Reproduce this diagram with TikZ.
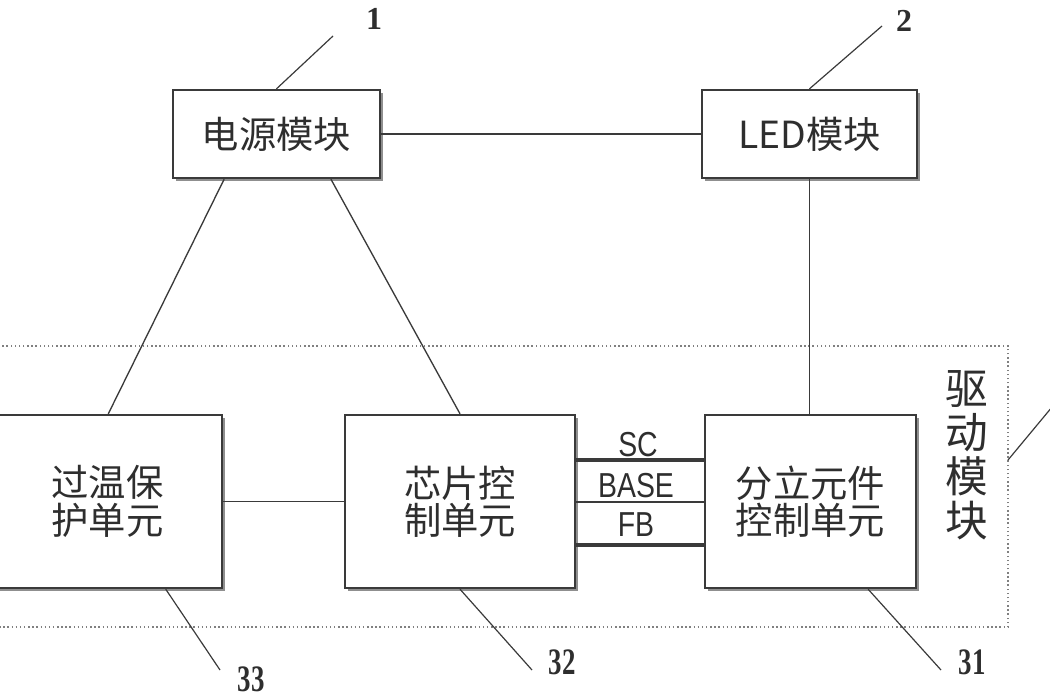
\documentclass[tikz,border=0pt]{standalone}
\usepackage{fontspec}
\setmainfont{Liberation Serif}
\newfontfamily\cjk{Noto Sans CJK SC}
\newfontfamily\narrowsans{Liberation Sans}
\usetikzlibrary{calc,shadows}
\definecolor{ink}{HTML}{2E2E2E}
\definecolor{edge}{HTML}{3A3A3A}
\tikzset{
  blk/.style={draw=edge, line width=1.8pt, fill=white, rectangle, inner sep=0pt,
    align=center, text=ink, font=\cjk\fontsize{28}{28}\selectfont,
    drop shadow={shadow xshift=2.2pt, shadow yshift=-2.2pt, opacity=0.55, fill=black!80}},
  conn/.style={draw=edge, line width=1pt},
  lead/.style={draw=edge, line width=0.9pt},
  bus/.style={draw=edge, line width=3pt},
  sig/.style={text=ink, font=\narrowsans\fontsize{26}{26}\selectfont, xscale=0.82, inner sep=0pt},
  numtop/.style={text=ink, font=\fontsize{24}{24}\selectfont\bfseries, inner sep=0pt},
  numbot/.style={text=ink, font=\fontsize{28}{28}\selectfont\bfseries, xscale=0.72, inner sep=0pt},
}
\begin{document}
\begin{tikzpicture}[x=0.75pt,y=-0.75pt]
\useasboundingbox (0,0) rectangle (1050,700);
\clip (0,0) rectangle (1050,700);
% dotted drive module frame
\draw[draw=gray, line width=1.1pt, dotted] (-5,346) rectangle (1008,627);
\coordinate (frameR) at (1008,460);
\coordinate (frameLeadEnd) at (1062,395);
\draw[lead] (frameR) -- (frameLeadEnd);
\node[text=ink, font=\cjk\fontsize{32}{33}\selectfont, align=center, inner sep=0pt] (drv) at (967,455) {驱\\动\\模\\块};

% blocks
\node[blk, minimum width=155.25pt, minimum height=66pt] (pw) at (276.5,134) {电源模块};
\node[blk, minimum width=161.25pt, minimum height=66pt] (led) at (809.5,134) {LED模块};
\node[blk, minimum width=177.75pt, minimum height=129.75pt] (ot) at (103.5,501.5) {\hspace*{6pt}过温保\\\hspace*{6pt}护单元};
\node[blk, minimum width=172.5pt, minimum height=129.75pt] (chip) at (460,501.5) {芯片控\\制单元};
\node[blk, minimum width=158.25pt, minimum height=129.75pt] (dc) at (810.5,501.5) {分立元件\\控制单元};

% connectors
\draw[conn] (pw.east) -- (led.west);
\draw[conn] (led.south) -- (led.south |- dc.north);
\draw[conn] ($(pw.south west)!0.25!(pw.south east)$) -- ($(ot.north west)!0.52!(ot.north east)$);
\draw[conn] ($(pw.south west)!0.76!(pw.south east)$) -- (chip.north);
\draw[conn] (ot.east) -- (chip.west);

% bus lines
\draw[bus] (chip.east |- 0,460) -- (dc.west |- 0,460);
\draw[bus, line width=2.2pt] (chip.east |- 0,502) -- (dc.west |- 0,502);
\draw[bus] (chip.east |- 0,545) -- (dc.west |- 0,545);
\node[sig] (sc) at (638,445) {SC};
\node[sig] (base) at (636,486) {BASE};
\node[sig] (fb) at (636,525) {FB};

% reference numerals
\node[numtop] (n1) at (374,19) {1};
\coordinate (n1l) at (333,36);
\draw[lead] (n1l) -- (pw.north);
\node[numtop] (n2) at (904,21) {2};
\coordinate (n2l) at (882,26);
\draw[lead] (n2l) -- (led.north);

\node[numbot] (n33) at (251,679) {33};
\coordinate (n33l) at (220,670);
\draw[lead] ($(ot.south west)!0.76!(ot.south east)$) -- (n33l);
\node[numbot] (n32) at (562,662) {32};
\coordinate (n32l) at (532,670);
\draw[lead] (chip.south) -- (n32l);
\node[numbot] (n31) at (972,662) {31};
\coordinate (n31l) at (941,670);
\draw[lead] ($(dc.south west)!0.77!(dc.south east)$) -- (n31l);
\end{tikzpicture}
\end{document}
